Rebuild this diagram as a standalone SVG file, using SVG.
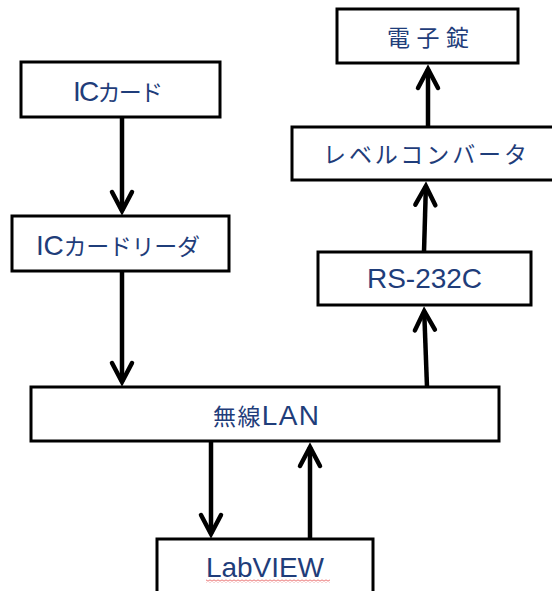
<svg xmlns="http://www.w3.org/2000/svg" width="552" height="591" viewBox="0 0 552 591">
<style>
.box{fill:#fff;stroke:#000;stroke-width:3}
.lbl{fill:#1f3d7a;font-family:"Noto Sans CJK JP","Liberation Sans",sans-serif;font-size:23px}
.lat{font-family:"Liberation Sans",Arial,sans-serif;font-size:28px}
.conn{stroke:#000;stroke-width:4.5;fill:none;marker-end:url(#arr)}
</style>
<defs>
<marker id="arr" markerUnits="userSpaceOnUse" viewBox="-24 -14 32 28" refX="0" refY="0" markerWidth="32" markerHeight="28" orient="auto" overflow="visible">
<path d="M-19,-10 L0,0 L-19,10" fill="none" stroke="#000" stroke-width="4.5" stroke-linecap="round" stroke-linejoin="miter"/>
</marker>
<pattern id="sq" width="4" height="3" patternUnits="userSpaceOnUse">
<path d="M0 2.5 L2 0.5 L4 2.5" stroke="#e03030" fill="none" stroke-width="0.9"/>
</pattern>
</defs>
<g id="connectors">
<line class="conn" x1="122" y1="117" x2="122" y2="211"/>
<line class="conn" x1="122" y1="271" x2="122" y2="382"/>
<line class="conn" x1="427" y1="387" x2="424.2" y2="311"/>
<line class="conn" x1="424" y1="252" x2="425.9" y2="186"/>
<line class="conn" x1="428" y1="127" x2="428" y2="69"/>
<line class="conn" x1="211" y1="441" x2="211" y2="534"/>
<line class="conn" x1="310" y1="539" x2="310" y2="447"/>
</g>
<g id="lock">
<rect class="box" x="337" y="9" width="181" height="54"/>
<text class="lbl" x="387" y="46" font-size="25" textLength="82" lengthAdjust="spacing">電子錠</text>
</g>
<g id="iccard">
<rect class="box" x="21" y="62" width="199" height="55"/>
<text class="lbl" x="73" y="101" textLength="90" lengthAdjust="spacing"><tspan class="lat">IC</tspan>カード</text>
</g>
<g id="levelconv">
<rect class="box" x="292" y="127" width="268" height="53"/>
<text class="lbl" x="323" y="163" textLength="204" lengthAdjust="spacing">レベルコンバータ</text>
</g>
<g id="icreader">
<rect class="box" x="12" y="216" width="217" height="55"/>
<text class="lbl" x="36" y="255" textLength="164" lengthAdjust="spacing"><tspan class="lat">IC</tspan>カードリーダ</text>
</g>
<g id="rs232c">
<rect class="box" x="318" y="252" width="213" height="53"/>
<text class="lbl lat" x="367" y="288" textLength="115" lengthAdjust="spacing">RS-232C</text>
</g>
<g id="wlan">
<rect class="box" x="31" y="387" width="468" height="54"/>
<text class="lbl" x="213" y="425" textLength="106" lengthAdjust="spacing">無線<tspan class="lat">LAN</tspan></text>
</g>
<g id="labview">
<rect class="box" x="157" y="539" width="216" height="70"/>
<text class="lbl lat" x="206" y="577" textLength="118" lengthAdjust="spacing">LabVIEW</text>
<rect x="206" y="579.5" width="124" height="3" fill="url(#sq)"/>
</g>
</svg>
